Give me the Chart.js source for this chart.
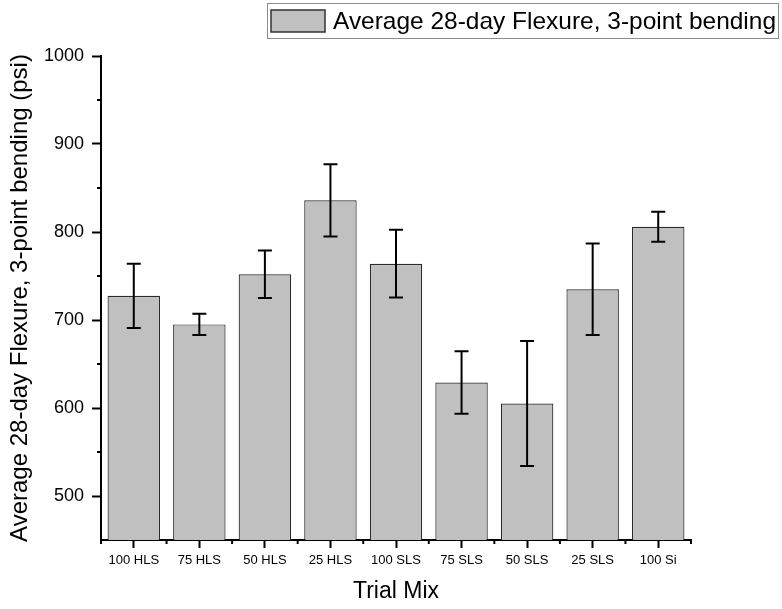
<!DOCTYPE html>
<html>
<head>
<meta charset="utf-8">
<script src="https://cdn.jsdelivr.net/npm/chart.js@4.4.1/dist/chart.umd.min.js"></script>
<style>
body{margin:0;background:#fff}
</style>
</head>
<body>
<canvas id="chart1" width="782" height="609"></canvas>
<script>
const mixes = ['100 HLS', '75 HLS', '50 HLS', '25 HLS', '100 SLS', '75 SLS', '50 SLS', '25 SLS', '100 Si']
const flexure = [727.5, 695, 752, 836, 764, 629, 605, 735, 806]
const flexureErr = [36.5, 12, 27, 41, 38.5, 35.5, 71, 52, 17]
const yTicks = [500, 600, 700, 800, 900, 1000]
const yMinor = [550, 650, 750, 850, 950]
const legendLabel = 'Average 28-day Flexure, 3-point bending'
const yTitle = 'Average 28-day Flexure, 3-point bending (psi)'
const xTitle = 'Trial Mix'

Chart.defaults.font.family = '"Liberation Sans", Arial, sans-serif'
Chart.defaults.color = '#000'

// error bars, minor ticks and the boxed legend
const extras = {
    id: 'extras',
    afterDatasetsDraw(chart){
        const ctx = chart.ctx
        const y = chart.scales.y
        const bars = chart.getDatasetMeta(0).data
        ctx.save()
        ctx.strokeStyle = '#000'
        ctx.lineWidth = 2
        bars.forEach((bar, i) => {
            const top = y.getPixelForValue(flexure[i] + flexureErr[i])
            const bot = y.getPixelForValue(flexure[i] - flexureErr[i])
            ctx.beginPath()
            ctx.moveTo(bar.x, top); ctx.lineTo(bar.x, bot)
            ctx.moveTo(bar.x - 7, top); ctx.lineTo(bar.x + 7, top)
            ctx.moveTo(bar.x - 7, bot); ctx.lineTo(bar.x + 7, bot)
            ctx.stroke()
        })
        ctx.restore()
    },
    afterDraw(chart){
        const ctx = chart.ctx
        const x = chart.scales.x, y = chart.scales.y
        const area = chart.chartArea
        ctx.save()
        ctx.strokeStyle = '#000'
        ctx.lineWidth = 2
        ctx.beginPath()
        yMinor.forEach(v => {
            const py = y.getPixelForValue(v)
            ctx.moveTo(area.left - 4, py); ctx.lineTo(area.left, py)
        })
        for (let i = 0; i <= mixes.length; i++){
            let px
            if (i === 0) px = area.left
            else if (i === mixes.length) px = area.right
            else px = (x.getPixelForValue(i - 1) + x.getPixelForValue(i)) / 2
            ctx.moveTo(px, area.bottom); ctx.lineTo(px, area.bottom + 4)
        }
        ctx.stroke()

        // legend
        ctx.lineWidth = 1
        ctx.strokeStyle = '#8c8c8c'
        ctx.strokeRect(267.5, 3.5, 511, 35)
        ctx.fillStyle = '#c0c0c0'
        ctx.fillRect(271, 10, 54, 22)
        ctx.strokeStyle = '#333'
        ctx.lineWidth = 1.5
        ctx.strokeRect(271, 10, 54, 22)
        ctx.fillStyle = '#000'
        ctx.font = '24px "Liberation Sans", Arial, sans-serif'
        ctx.textBaseline = 'middle'
        const w = ctx.measureText(legendLabel).width
        ctx.translate(333, 22)
        ctx.scale(443 / w, 1)
        ctx.fillText(legendLabel, 0, 0)
        ctx.restore()
    }
}

function grafico(){
    const data = {
        labels: mixes,
        datasets: [{
            label: legendLabel,
            data: flexure,
            backgroundColor: '#c0c0c0',
            borderColor: '#2b2b2b',
            borderWidth: 1.2,
            barPercentage: 0.8,
            categoryPercentage: 1
        }]
    }
    new Chart(document.getElementById('chart1'), {
        type: 'bar',
        data,
        plugins: [extras],
        options: {
            responsive: false,
            animation: false,
            layout: {padding: {top: 56, right: 91, left: 0, bottom: 0}},
            plugins: {legend: {display: false}, tooltip: {enabled: false}},
            scales: {
                x: {
                    grid: {drawOnChartArea: false, offset: false, tickLength: 8, tickWidth: 2, tickColor: '#000'},
                    border: {color: '#000', width: 2},
                    ticks: {font: {size: 13}, padding: 5, maxRotation: 0, autoSkip: false},
                    title: {display: true, text: xTitle, font: {size: 23}, padding: {top: 4, bottom: 4}},
                    afterFit: s => { s.height = 69 }
                },
                y: {
                    min: 450,
                    max: 1000,
                    afterBuildTicks: s => { s.ticks = yTicks.map(v => ({value: v})) },
                    grid: {drawOnChartArea: false, tickLength: 9, tickWidth: 2, tickColor: '#000'},
                    border: {color: '#000', width: 2},
                    ticks: {font: {size: 18}, padding: 8, callback: v => String(v)},
                    title: {display: true, text: yTitle, font: {size: 24}, padding: {top: 6, bottom: 4}},
                    afterFit: s => { s.width = 101 }
                }
            }
        }
    })
}

grafico()
</script>
</body>
</html>
